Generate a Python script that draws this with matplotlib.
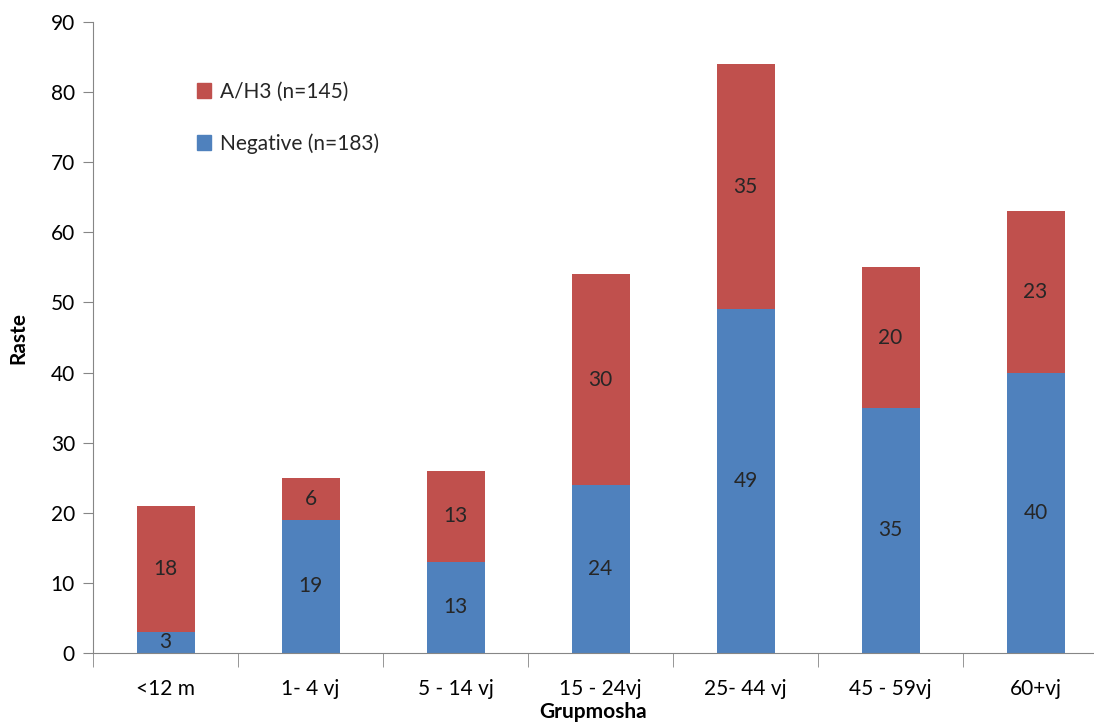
import numpy as np
import matplotlib.pyplot as plt
import matplotlib as mpl
from matplotlib.patches import Patch

RED = "#C0504D"; BLUE = "#4F81BD"; AXIS = "#868686"; TXT = "#262626"
mpl.rcParams.update({"font.family": ["Lato", "DejaVu Sans"], "text.color": TXT})

groups = ["<12 m", "1- 4 vj", "5 - 14 vj", "15 - 24vj", "25- 44 vj", "45 - 59vj", "60+vj"]
negative = [3, 19, 13, 24, 49, 35, 40]
h3 = [18, 6, 13, 30, 35, 20, 23]

fig = plt.figure(figsize=(10.94, 7.26), dpi=100)
W, H = 1094, 726
ax = fig.add_axes([93 / W, (H - 653) / H, (W - 93) / W, (653 - 22) / H])

x = np.arange(len(groups))
ax.bar(x, negative, width=0.4, color=BLUE)
ax.bar(x, h3, width=0.4, bottom=negative, color=RED)

for i in range(len(groups)):
    ax.text(x[i], negative[i] / 2, str(negative[i]), ha="center", va="center", fontsize=15, color=TXT)
    ax.text(x[i], negative[i] + h3[i] / 2, str(h3[i]), ha="center", va="center", fontsize=15, color=TXT)

ax.set_yticks(range(0, 91, 10))
ax.set_xticks(x)
ax.set_xticklabels(groups, fontsize=15)
ax.set_xticks(np.arange(-0.5, 7, 1), minor=True)
ax.set_ylim(0, 90)
ax.set_xlim(-0.5, (W - 93) / 145 - 0.5)
ax.tick_params(axis="x", which="major", length=0, pad=19)
ax.tick_params(axis="x", which="minor", length=10, color=AXIS, direction="out")
ax.tick_params(axis="y", length=7, color=AXIS, labelsize=15, pad=6)
for s in ["top", "right"]:
    ax.spines[s].set_visible(False)
for s in ["left", "bottom"]:
    ax.spines[s].set_color(AXIS)

ax.set_ylabel("Raste", fontsize=15, fontweight="bold", labelpad=16)
ax.set_xlabel("Grupmosha", fontsize=15, fontweight="bold", labelpad=2)

handles = [Patch(color=RED), Patch(color=BLUE)]
ax.legend(handles, ["A/H3 (n=145)", "Negative (n=183)"], loc="upper left",
          bbox_to_anchor=(0.085, 0.935), frameon=False, fontsize=15,
          handlelength=0.7, handleheight=0.7, handletextpad=0.4, labelspacing=1.5)

plt.savefig("out.png", dpi=100, facecolor="white")
